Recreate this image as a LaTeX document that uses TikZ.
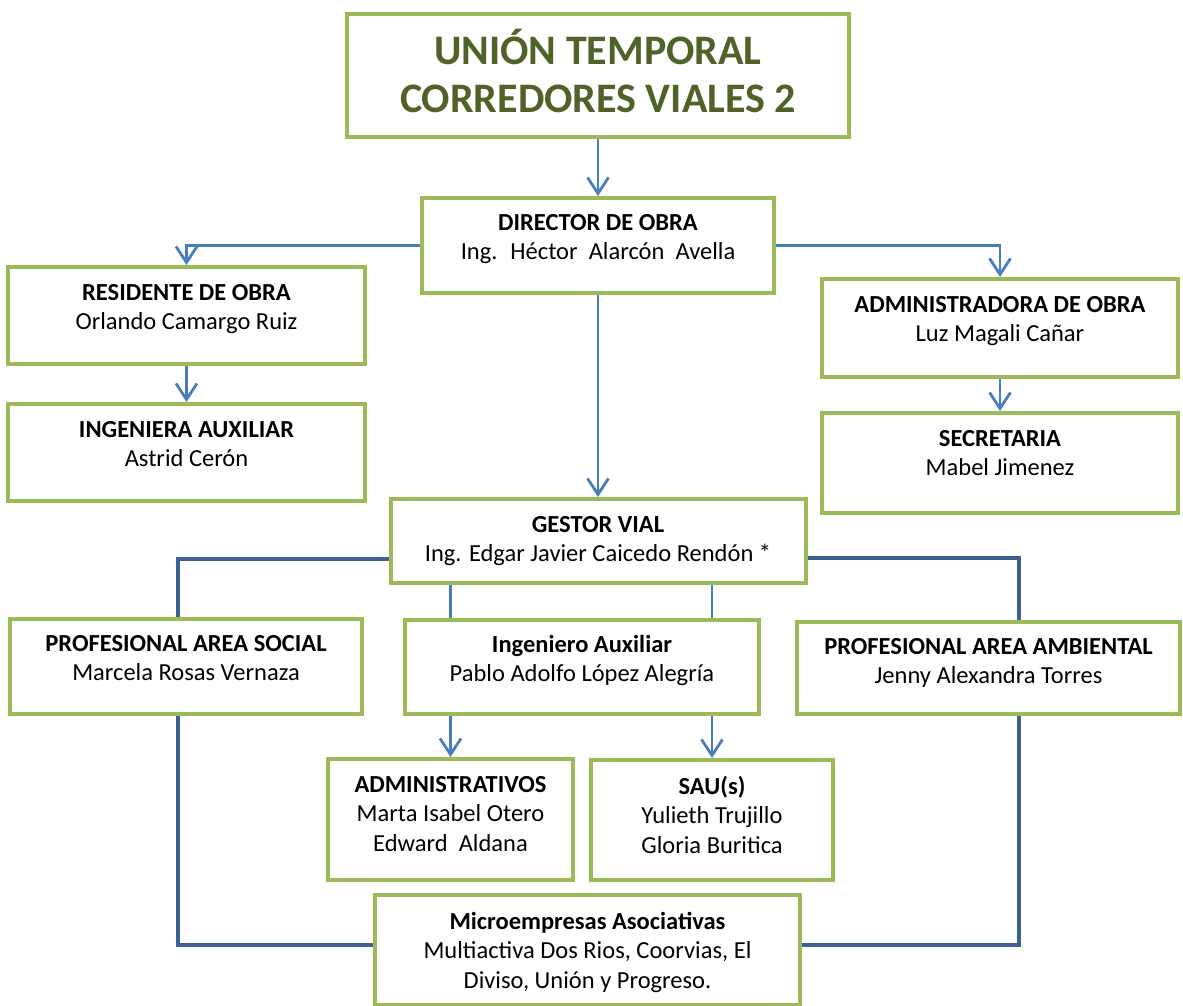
\documentclass[tikz,border=0pt]{standalone}
\usepackage{fontspec}
\setmainfont{Carlito}
\usetikzlibrary{arrows.meta,positioning}
\definecolor{boxgreen}{HTML}{9BBB59}
\definecolor{titlegreen}{HTML}{4F6228}
\definecolor{arrowblue}{HTML}{4A7EBB}
\definecolor{frameblue}{HTML}{3C6190}

\begin{document}
\begin{tikzpicture}[
  x=1pt, y=-1pt,
  box/.style={draw=boxgreen, line width=4pt, fill=white, align=flush center,
              inner sep=0pt, text height=33pt, font=\fontsize{24.5}{29.5}\selectfont},
  arr/.style={-{Straight Barb[length=16pt, width=21pt]}, draw=arrowblue, line width=2.8pt},
  link/.style={draw=arrowblue, line width=2.8pt},
  frame/.style={draw=frameblue, line width=4.5pt},
  node distance=34pt]
\useasboundingbox (0,0) rectangle (1183,1006);
\node[box, anchor=north, text width=502pt, text height=51pt, text depth=72pt,
      font=\fontsize{42}{48}\selectfont\bfseries, text=titlegreen] (ut) at (598,12)
  {UNIÓN TEMPORAL\\CORREDORES VIALES 2};
\node[box, below=57pt of ut, text width=352pt, text height=32pt, text depth=63pt] (dir)
  {\textbf{DIRECTOR DE OBRA}\\Ing.~ Héctor~ Alarcón~ Avella};
\node[box, anchor=north, text width=357pt, text depth=64pt] (res) at (186.5,265)
  {\textbf{RESIDENTE DE OBRA}\\Orlando Camargo Ruiz};
\node[box, below=36pt of res, text width=357pt, text depth=64pt] (ingA)
  {\textbf{INGENIERA AUXILIAR}\\Astrid Cerón};
\node[box, anchor=north, text width=356pt, text depth=65pt] (adm) at (1000,277)
  {\textbf{ADMINISTRADORA DE OBRA}\\Luz Magali Cañar};
\node[box, below=32pt of adm, text width=356pt, text depth=67pt] (sec)
  {\textbf{SECRETARIA}\\Mabel Jimenez};
\node[box, anchor=north, text width=415pt, text depth=51pt] (gest) at (598,497)
  {\textbf{GESTOR VIAL}\\Ing. Edgar Javier Caicedo Rendón *};
\node[box, anchor=north, text width=352pt, text height=32pt, text depth=63pt] (soc) at (186,617)
  {\textbf{PROFESIONAL AREA SOCIAL}\\Marcela Rosas Vernaza};
\node[box, anchor=north, text width=354pt, text height=32pt, text depth=62pt] (ingaux) at (582,618)
  {\textbf{Ingeniero Auxiliar}\\Pablo Adolfo López Alegría};
\node[box, anchor=north, text width=383pt, text height=32pt, text depth=60pt] (amb) at (988.5,620)
  {\textbf{PROFESIONAL AREA AMBIENTAL}\\Jenny Alexandra Torres};
\node[box, anchor=north, text width=245pt, text depth=88pt] (admv) at (450.5,757)
  {\textbf{ADMINISTRATIVOS}\\Marta Isabel Otero\\Edward~ Aldana};
\node[box, anchor=north, text width=242pt, text height=34pt, text depth=86pt] (sau) at (712,758)
  {\textbf{SAU(s)}\\Yulieth Trujillo\\Gloria Buritica};
\node[box, anchor=north, text width=425pt, text height=34pt, text depth=76pt] (micro) at (587.5,893)
  {\textbf{Microempresas Asociativas}\\Multiactiva Dos Rios, Coorvias, El\\Diviso, Unión y Progreso.};
% arrows
\draw[arr] (ut) -- (dir);
\draw[arr] (dir.west) -| (res.north);
\draw[arr] (dir.east) -| (adm.north);
\draw[arr] (res) -- (ingA);
\draw[arr] (adm) -- (sec);
\draw[arr] (dir) -- (gest);
\draw[link] (gest.south -| admv.north) -- (ingaux.north -| admv.north);
\draw[link] (gest.south -| sau.north) -- (ingaux.north -| sau.north);
\draw[arr] (ingaux.south -| admv.north) -- (admv.north);
\draw[arr] (ingaux.south -| sau.north) -- (sau.north);
% social / ambiental frame
\draw[frame] ([yshift=-18pt]gest.west) -| ([xshift=-8pt]soc.north);
\draw[frame] ([xshift=-8pt]soc.south) |- ([yshift=5pt]micro.west);
\draw[frame] ([yshift=-17pt]gest.east) -| ([xshift=30.5pt]amb.north);
\draw[frame] ([xshift=30.5pt]amb.south) |- ([yshift=5pt]micro.east);
\end{tikzpicture}
\end{document}
